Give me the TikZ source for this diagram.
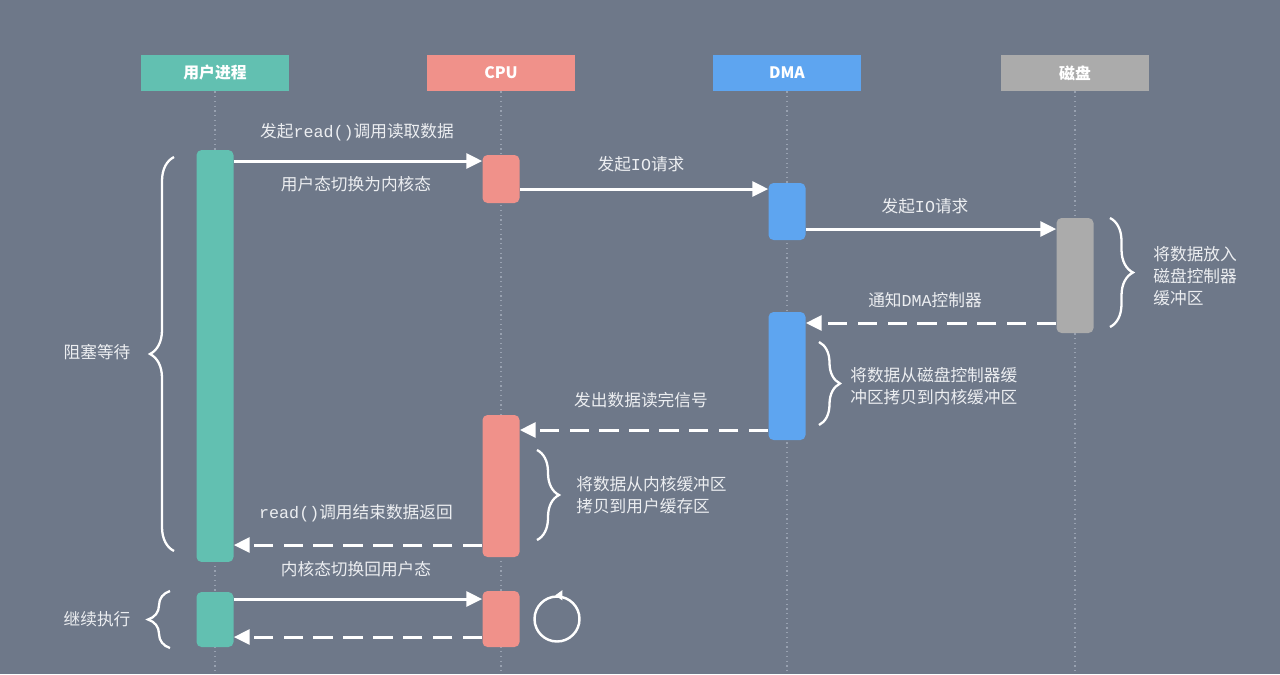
\documentclass[tikz,border=0pt]{standalone}
\usepackage{fontspec}
\setmainfont{Noto Sans CJK SC}
\setmonofont{Liberation Mono}
\usetikzlibrary{arrows.meta,decorations.pathreplacing,calc}
\definecolor{bg}{HTML}{6E7889}
\definecolor{teal1}{HTML}{62C0B1}
\definecolor{salmon}{HTML}{F0918A}
\definecolor{blue1}{HTML}{5EA5F0}
\definecolor{gray1}{HTML}{ABABAB}
\definecolor{life}{HTML}{98A1B0}
\definecolor{txt}{HTML}{ECEEF1}
\begin{document}
\begin{tikzpicture}[x=0.02cm,y=-0.02cm,
 header/.style={minimum width=2.96cm,minimum height=0.72cm,inner sep=0pt,text=white,font=\fontsize{9pt}{10pt}\selectfont\bfseries},
 bar/.style={rounded corners=0.1cm,minimum width=0.74cm,inner sep=0pt},
 lifeline/.style={life,line width=0.7pt,dotted},
 msg/.style={white,line width=1.7pt,-{Triangle[length=9pt,width=8.5pt]}},
 ret/.style={msg,dash pattern=on 11pt off 6pt},
 lbl/.style={text=txt,font=\fontsize{9.5pt}{12.5pt}\selectfont,inner sep=0pt},
 mlbl/.style={lbl,align=left,anchor=west},
 curly/.style={white,line width=1.3pt,decorate,decoration={brace,amplitude=#1}},
]
\fill[bg] (0,0) rectangle (1280,674);
\useasboundingbox (0,0) rectangle (1280,674);

% headers
\node[header,fill=teal1] (hu) at (215,73) {用户进程};
\node[header,fill=salmon] (hc) at (501,73) {CPU};
\node[header,fill=blue1] (hd) at (787,73) {DMA};
\node[header,fill=gray1] (hk) at (1075,73) {磁盘};

% lifelines
\coordinate (eu) at (hu.south |- 0,674);
\coordinate (ec) at (hc.south |- 0,674);
\coordinate (ed) at (hd.south |- 0,674);
\coordinate (ek) at (hk.south |- 0,674);
\draw[lifeline] (hu.south) -- (eu);
\draw[lifeline] (hc.south) -- (ec);
\draw[lifeline] (hd.south) -- (ed);
\draw[lifeline] (hk.south) -- (ek);

% activation bars
\node[bar,fill=teal1,minimum height=8.24cm] (u1) at (hu |- 0,356) {};
\node[bar,fill=teal1,minimum height=1.1cm] (u2) at (hu |- 0,619.5) {};
\node[bar,fill=salmon,minimum height=0.96cm] (c1) at (hc |- 0,179) {};
\node[bar,fill=salmon,minimum height=2.84cm] (c2) at (hc |- 0,486) {};
\node[bar,fill=salmon,minimum height=1.12cm] (c3) at (hc |- 0,619) {};
\node[bar,fill=blue1,minimum height=1.14cm] (d1) at (hd |- 0,211.5) {};
\node[bar,fill=blue1,minimum height=2.56cm] (d2) at (hd |- 0,376) {};
\node[bar,fill=gray1,minimum height=2.3cm] (k1) at (hk |- 0,275.5) {};

% messages
\draw[msg] (u1.east |- 0,161) -- (c1.west |- 0,161);
\draw[msg] (c1.east |- 0,189) -- (d1.west |- 0,189);
\draw[msg] (d1.east |- 0,229) -- (k1.west |- 0,229);
\draw[ret] (k1.west |- 0,323) -- (d2.east |- 0,323);
\draw[ret] (d2.west |- 0,430) -- (c2.east |- 0,430);
\draw[ret] (c2.west |- 0,545) -- (u1.east |- 0,545);
\draw[msg] (u2.east |- 0,599) -- (c3.west |- 0,599);
\draw[ret] (c3.west |- 0,637) -- (u2.east |- 0,637);

% message labels
\node[lbl] (m1) at (357,132) {发起{\ttfamily read()}调用读取数据};
\node[lbl] (m1b) at (356,184) {用户态切换为内核态};
\node[lbl] (m2) at (641,164) {发起{\ttfamily IO}请求};
\node[lbl] (m3) at (925,206) {发起{\ttfamily IO}请求};
\node[lbl] (m4) at (925,300) {通知{\ttfamily DMA}控制器};
\node[lbl] (m5) at (641,400) {发出数据读完信号};
\node[lbl] (m6) at (356,513) {{\ttfamily read()}调用结束数据返回};
\node[lbl] (m6b) at (356,569) {内核态切换回用户态};

% braces and notes
\draw[curly=0.48cm] (174,551) -- (174,157);
\node[lbl] (n1) at (97,352) {阻塞等待};
\draw[curly=0.44cm] (170,648) -- (170,591);
\node[lbl] (n2) at (97,619) {继续执行};
\draw[curly=0.46cm] (1110,218) -- (1110,327);
\node[mlbl] (n3) at (1153,276) {将数据放入\\磁盘控制器\\缓冲区};
\draw[curly=0.42cm] (819,342) -- (819,425);
\node[mlbl] (n4) at (850,386) {将数据从磁盘控制器缓\\冲区拷贝到内核缓冲区};
\draw[curly=0.44cm] (537,450) -- (537,540);
\node[mlbl] (n5) at (576,495) {将数据从内核缓冲区\\拷贝到用户缓存区};

% loop symbol
\node[circle,draw=white,line width=1.4pt,minimum size=0.9cm,inner sep=0pt] (loop) at (557,619) {};
\draw[white,line width=1.4pt,-{Triangle[length=4pt,width=5.5pt]}] ([xshift=2.5pt]loop.north) -- ([xshift=-1pt]loop.north);
\end{tikzpicture}
\end{document}
